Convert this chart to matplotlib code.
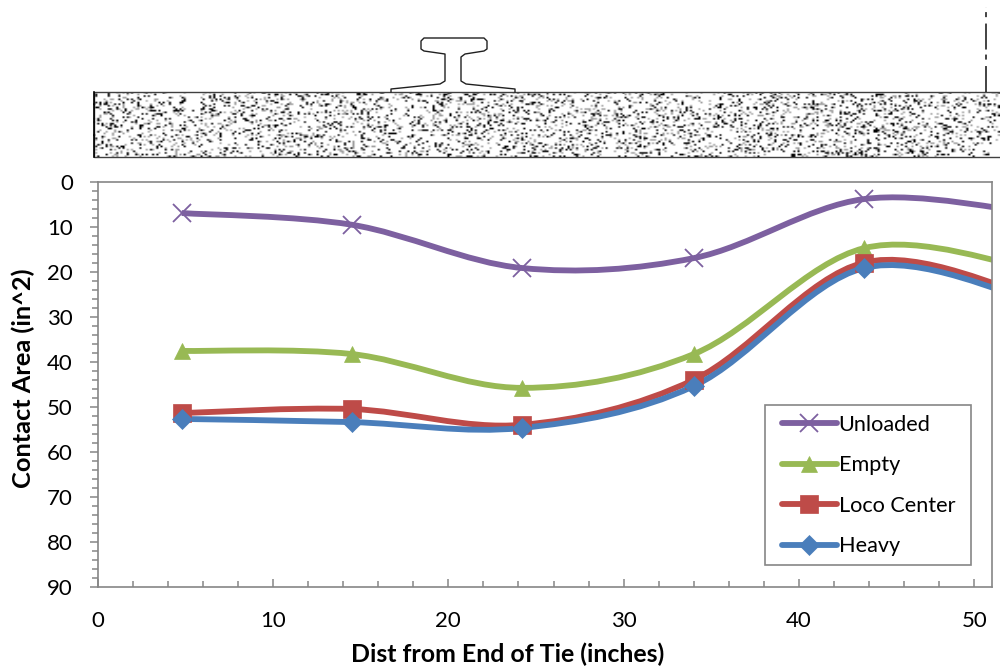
import numpy as np
import matplotlib.pyplot as plt
from matplotlib.lines import Line2D
from matplotlib.path import Path
from matplotlib.patches import PathPatch, Rectangle

plt.rcParams['font.family'] = ['Lato', 'DejaVu Sans']

# values, last point sits past the right edge of the axis
dist = [4.8, 14.5, 24.2, 34.0, 43.7, 53.4]
unloaded = [7.0, 9.6, 19.2, 17.0, 3.9, 7.0]
empty = [37.6, 38.3, 45.8, 38.3, 14.8, 19.5]
loco_center = [51.4, 50.5, 54.0, 44.0, 18.0, 25.5]
heavy = [52.7, 53.4, 54.7, 45.4, 19.2, 26.5]

series_names = ['Unloaded', 'Empty', 'Loco Center', 'Heavy']
series_vals = [unloaded, empty, loco_center, heavy]
colors = ['#7D60A0', '#98B954', '#BE4B48', '#4A7EBB']
markers = ['x', '^', 's', 'D']
marker_sizes = [13, 12, 13, 10]

GRAY = '#868686'


def smooth_path(x, y):
    # excel style smoothed line, bezier segments through the points
    pts = np.column_stack([x, y])
    verts = [pts[0]]
    codes = [Path.MOVETO]
    n = len(pts)
    for i in range(n - 1):
        p0 = pts[max(i - 1, 0)]
        p1 = pts[i]
        p2 = pts[i + 1]
        p3 = pts[min(i + 2, n - 1)]
        verts += [p1 + (p2 - p0) / 6, p2 - (p3 - p1) / 6, p2]
        codes += [Path.CURVE4] * 3
    return Path(verts, codes)


fig = plt.figure(figsize=(10, 6.71), dpi=100)

# drawing of the tie and rail above the chart, in pixel coordinates
deco = fig.add_axes([0, 0, 1, 1])

# speckle texture only, not chart data
rng = np.random.RandomState(4)
noise = rng.random_sample((40, 430))
tex = np.ones(noise.shape)
tex[noise < 0.21] = 0.62
tex[noise < 0.11] = 0.0
deco.imshow(tex, cmap='gray', vmin=0, vmax=1, extent=(93, 1000, 157, 92),
            aspect='auto', interpolation='bilinear', zorder=1)
deco.set_xlim(0, 1000)
deco.set_ylim(671, 0)
deco.axis('off')
deco.add_patch(Rectangle((93.5, 92), 910, 65, fill=False, edgecolor='#404040', lw=1.0, zorder=2))
deco.plot([93.5, 93.5], [92, 157], color='black', lw=1.2, zorder=2)

rail_x = [391, 391, 440, 445, 445, 424, 421, 421, 424, 484, 487, 487, 484, 465, 461, 461, 466, 515, 515]
rail_y = [92, 89, 84, 81, 54, 51, 49, 41, 38, 38, 41, 49, 51, 54, 57, 81, 84, 89, 92]
deco.plot(rail_x, rail_y, color='#202020', lw=1.0, zorder=2)
deco.plot([986, 986], [92, 7], color='#101010', lw=1.1, zorder=2,
          dashes=(17, 4.2, 3.3, 3.3), dash_capstyle='butt')

ax = fig.add_axes([0.0975, 1 - 587 / 671, 0.8945, (587 - 181.5) / 671])
ax.patch.set_alpha(0)

for name, vals, c, m, ms in zip(series_names, series_vals, colors, markers, marker_sizes):
    ax.add_patch(PathPatch(smooth_path(dist, vals), fill=False, edgecolor=c, lw=4.2, capstyle='butt'))
    ax.plot(dist, vals, linestyle='none', marker=m, color=c, markersize=ms,
            markeredgewidth=1.3 if m == 'x' else 0.5, label=name)

ax.set_xlim(0, 51)
ax.set_ylim(90, 0)

ax.set_xticks(np.arange(0, 51, 10))
ax.set_xticks(np.arange(0, 51, 2), minor=True)
ax.set_yticks(np.arange(0, 91, 10))
ax.set_yticks(np.arange(0, 91, 2), minor=True)

ax.tick_params(axis='x', which='major', direction='in', length=5.8, width=1.1, color=GRAY,
               labelsize=16, pad=17)
ax.tick_params(axis='x', which='minor', direction='in', length=4.3, width=1.1, color=GRAY)
ax.tick_params(axis='y', which='major', direction='out', length=5.8, width=1.1, color=GRAY,
               labelsize=16, pad=12)
ax.tick_params(axis='y', which='minor', direction='out', length=4, width=1.1, color=GRAY)

for s in ax.spines.values():
    s.set_color(GRAY)
    s.set_linewidth(1.2)

ax.set_xlabel('Dist from End of Tie (inches)', fontsize=17.9, fontweight='bold')
ax.set_ylabel('Contact Area (in^2)', fontsize=18.3, fontweight='bold')
ax.xaxis.set_label_coords(0.459, -0.138)
ax.yaxis.set_label_coords(-0.070, 0.515)

# legend box drawn on its own so the entries can sit where they do in the reference
ax.add_patch(Rectangle((0.7462, 0.0543), 0.2303, 0.3945, transform=ax.transAxes, facecolor='white',
                       edgecolor=GRAY, lw=1.2, zorder=4.5))
handles = [Line2D([0], [0], color=c, lw=4.2, marker=m, markersize=ms,
                  markeredgewidth=1.3 if m == 'x' else 0.5, solid_capstyle='round')
           for c, m, ms in zip(colors, markers, marker_sizes)]
leg = ax.legend(handles, series_names, loc='upper left', bbox_to_anchor=(0.765, 0.4254),
                fontsize=15.6, frameon=False, borderaxespad=0, borderpad=0,
                labelspacing=0.95, handlelength=2.54, handletextpad=0.08)

plt.savefig('out.png', dpi=100)
